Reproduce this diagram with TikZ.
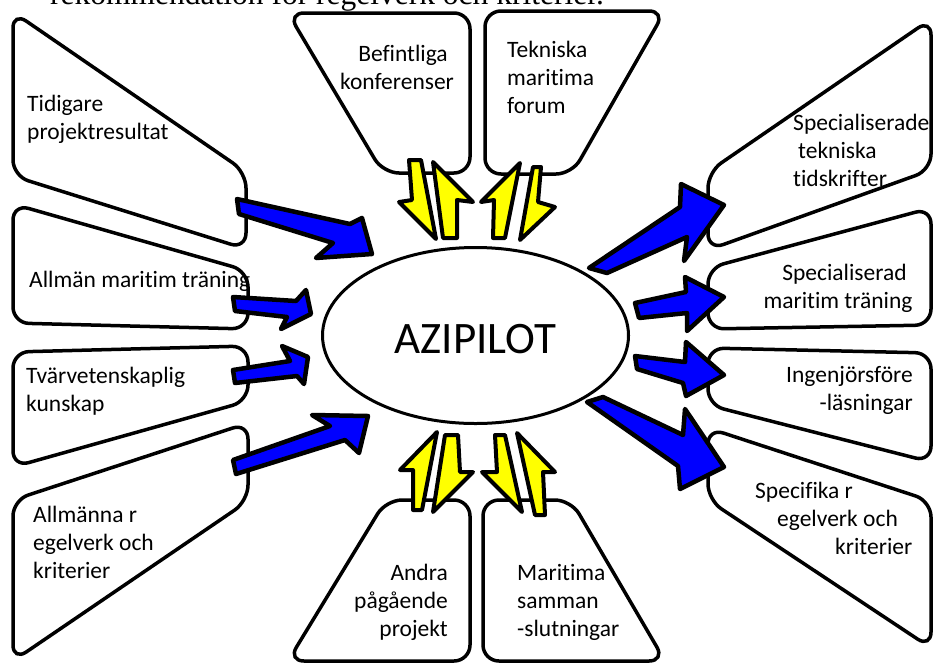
\documentclass[tikz,border=0pt]{standalone}
\usepackage{fontspec}
\setmainfont{Carlito}[RawFeature={-liga;-clig;-dlig;-rlig;-calt}]
\newfontfamily\serifhead{Liberation Serif}
\usetikzlibrary{shapes.geometric}
\definecolor{arrowblue}{RGB}{0,0,255}
\definecolor{arrowyellow}{RGB}{255,255,0}
\newcommand{\nolig}{\kern0pt }
\begin{document}
\begin{tikzpicture}[x=1pt,y=-1pt,
  box/.style={draw=black, line width=3.5pt, rounded corners=16pt, fill=white},
  lbl/.style={inner sep=0pt, font=\fontsize{23.5}{28}\selectfont},
  bluearrow/.style={draw=black, fill=arrowblue, line width=4.5pt, line join=round},
  yellowarrow/.style={draw=black, fill=arrowyellow, line width=4pt, line join=round},
]
\useasboundingbox (0,0) rectangle (933,662);
\fill[white] (0,0) rectangle (933,662);

% header line (cut off at top, as in the reference)
\node[anchor=base west, inner sep=0pt, font=\serifhead\fontsize{31.5}{32}\selectfont] (hdr) at (50,4) {rekommendation för regelverk och kriterier.};

% boxes
\draw[box] (13,12) -- (246,172) -- (246,249) -- (13,176) -- cycle;   % Tidigare
\draw[box] (13,204) -- (248,271) -- (248,329) -- (13,323) -- cycle;  % Allman
\draw[box] (13,352) -- (248,346) -- (248,401) -- (13,467) -- cycle;  % Tvarvet
\draw[box] (13,500) -- (248,423) -- (248,501) -- (13,661) -- cycle;  % Allmanna
\draw[box] (288,13) -- (470,13) -- (470,173) -- (383,173) -- cycle;  % Befintliga
\draw[box] (485,11) -- (665,11) -- (572,174) -- (485,174) -- cycle;  % Tekniska
\draw[box] (708,172) -- (931,19) -- (931,170) -- (708,250) -- cycle; % Spec tidskr
\draw[box] (708,268) -- (931,208) -- (931,325) -- (708,329) -- cycle; % Spec mar
\draw[box] (708,348) -- (931,353) -- (931,462) -- (708,405) -- cycle; % Ingenjor
\draw[box] (708,428) -- (931,501) -- (931,648) -- (708,500) -- cycle; % Specifika
\draw[box] (386,500) -- (470,500) -- (470,661) -- (288,661) -- cycle; % Andra
\draw[box] (483,500) -- (571,500) -- (665,661) -- (483,661) -- cycle; % Maritima

% centre
\node[draw=black, line width=3pt, ellipse, fill=white, minimum width=306pt, minimum height=176pt,
      inner sep=0pt, text height=35pt, text depth=0pt, font=\fontsize{45}{45}\selectfont] (core) at (475.5,335.5) {AZIPILOT};

% arrow tips
\coordinate (tL1) at (372,254);
\coordinate (tL2) at (311,314);
\coordinate (tL3) at (308,357);
\coordinate (tL4) at (368,416);
\coordinate (tR1) at (724,205);
\coordinate (tR2) at (724,297);
\coordinate (tR3) at (724,375);
\coordinate (tR4) at (724,467);

% blue arrows in
\draw[bluearrow] (237,199) -- (350,224) -- (362,218) -- (tL1) -- (316,258) -- (333,243) -- (239,214) -- cycle;
\draw[bluearrow] (233,297) -- (296,301) -- (306,290) -- (tL2) -- (281,329) -- (287,317) -- (235,311) -- cycle;
\draw[bluearrow] (233,370) -- (290,361) -- (282,346) -- (tL3) -- (304,384) -- (297,376) -- (235,383) -- cycle;
\draw[bluearrow] (233,460) -- (330,426) -- (312,415) -- (tL4) -- (359,453) -- (345,440) -- (236,474) -- cycle;
% blue arrows out
\draw[bluearrow] (589,268) -- (680,207) -- (681,184) -- (tR1) -- (684,261) -- (687,237) -- (607,273) -- cycle;
\draw[bluearrow] (635,303) -- (686,292) -- (685,277) -- (tR2) -- (687,331) -- (687,313) -- (639,318) -- cycle;
\draw[bluearrow] (635,356) -- (685,362) -- (686,342) -- (tR3) -- (686,396) -- (683,383) -- (637,369) -- cycle;
\draw[bluearrow] (603,397) -- (683,435) -- (685,409) -- (tR4) -- (680,489) -- (678,466) -- (587,402) -- cycle;

% yellow arrows
\draw[yellowarrow] (409,160) -- (421,160) -- (436,239) -- (399,202) -- (412,200) -- cycle;
\draw[yellowarrow] (433,162) -- (473,202) -- (457,200) -- (457,238) -- (443,238) -- cycle;
\draw[yellowarrow] (520,163) -- (505,238) -- (493,238) -- (494,200) -- (481,202) -- cycle;
\draw[yellowarrow] (533,167) -- (541,167) -- (538,202) -- (555,207) -- (520,240) -- cycle;
\draw[yellowarrow] (437,432) -- (422,510) -- (413,510) -- (413,470) -- (400,470) -- cycle;
\draw[yellowarrow] (445,435) -- (458,435) -- (460,472) -- (473,472) -- (433,512) -- cycle;
\draw[yellowarrow] (495,435) -- (505,435) -- (522,512) -- (482,472) -- (497,472) -- cycle;
\draw[yellowarrow] (517,433) -- (555,472) -- (543,472) -- (545,515) -- (535,515) -- cycle;

% labels
\node[lbl, anchor=base west] (tid1) at (27,111) {Tidigare};
\node[lbl, anchor=base west] (tid2) at (27,139) {projektresultat};
\node[lbl, anchor=base west] (allm) at (29,287) {Allmän marit\nolig im tränin\nolig g};
\node[lbl, anchor=base west] (tva1) at (26,383) {Tvärvetenskaplig};
\node[lbl, anchor=base west] (tva2) at (26,411) {kunskap};
\node[lbl, anchor=base west] (alr1) at (33,522) {Allmänna r};
\node[lbl, anchor=base west] (alr2) at (33,550) {egelverk och};
\node[lbl, anchor=base west] (alr3) at (33,578) {kriterier};
\node[lbl, anchor=base] (bef1) at (403,61) {Bef\nolig int\nolig liga};
\node[lbl, anchor=base] (bef2) at (397,89) {konferenser};
\node[lbl, anchor=base west] (tek1) at (507,57) {Tekniska};
\node[lbl, anchor=base west] (tek2) at (507,85) {marit\nolig ima};
\node[lbl, anchor=base west] (tek3) at (507,113) {forum};
\node[lbl, anchor=base west] (spt1) at (793,130) {Specialiserade};
\node[lbl, anchor=base west] (spt2) at (798,158) {tekniska};
\node[lbl, anchor=base west] (spt3) at (793,186) {tidskrif\nolig ter};
\node[lbl, anchor=base] (spm1) at (844.5,280) {Specialiserad};
\node[lbl, anchor=base] (spm2) at (838,308) {marit\nolig im tränin\nolig g};
\node[lbl, anchor=base east] (ing1) at (913,382) {Ingenjörsföre};
\node[lbl, anchor=base east] (ing2) at (913,410) {-läsningar};
\node[lbl, anchor=base west] (spf1) at (755,498) {Specif\nolig ika r};
\node[lbl, anchor=base west] (spf2) at (777,526) {egelverk och};
\node[lbl, anchor=base west] (spf3) at (835,554) {kriterier};
\node[lbl, anchor=base east] (and1) at (448,580) {Andra};
\node[lbl, anchor=base east] (and2) at (448,608) {pågående};
\node[lbl, anchor=base east] (and3) at (448,636) {projekt};
\node[lbl, anchor=base west] (mar1) at (517,580) {Marit\nolig ima};
\node[lbl, anchor=base west] (mar2) at (517,608) {samman};
\node[lbl, anchor=base west] (mar3) at (517,636) {-slutningar};
\end{tikzpicture}
\end{document}
